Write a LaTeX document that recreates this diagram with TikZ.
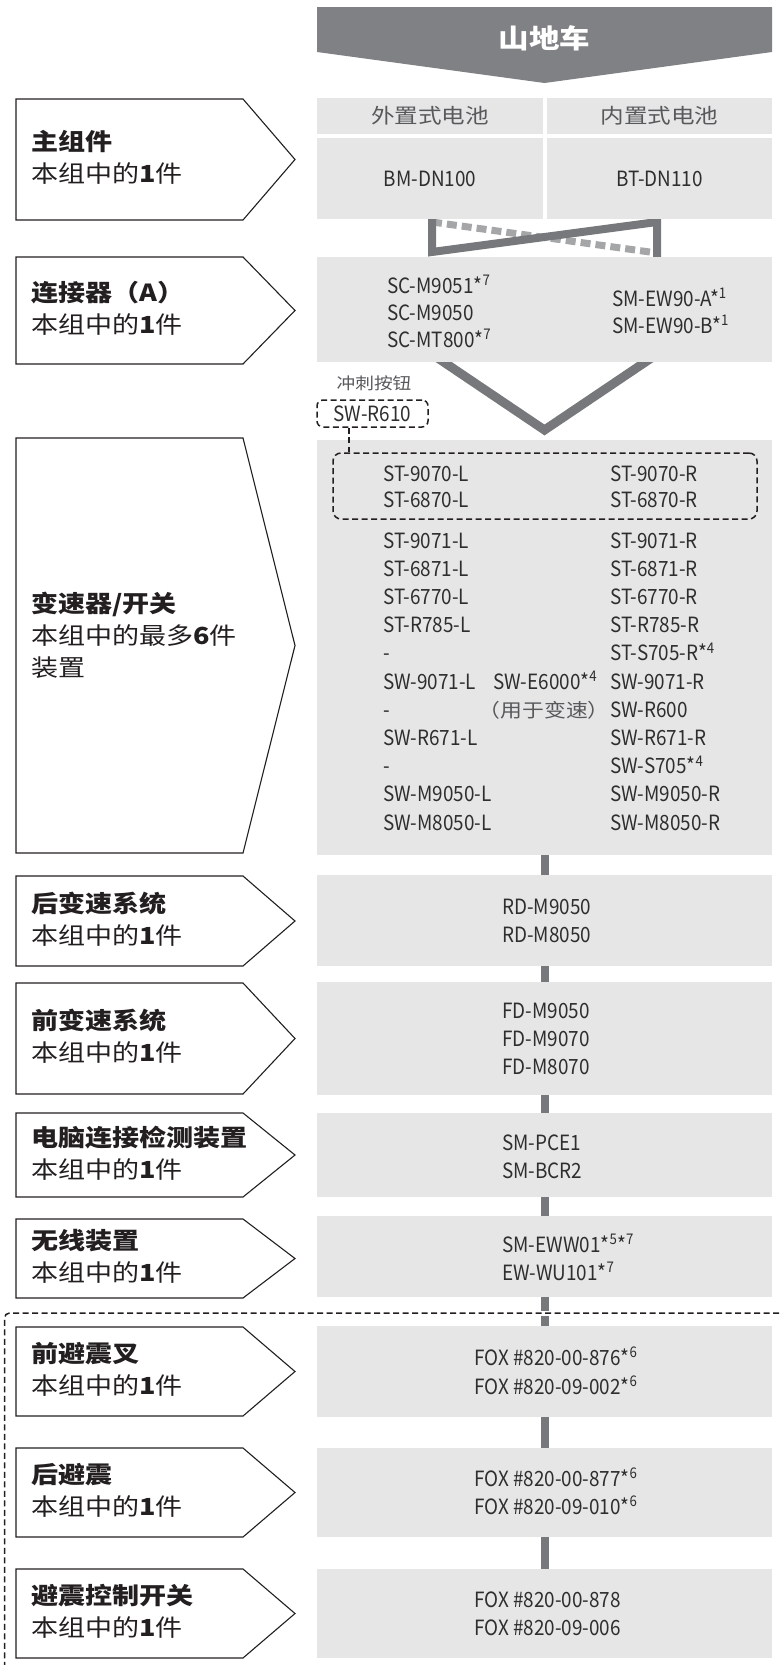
\documentclass[tikz,border=0pt]{standalone}
\usepackage{fontspec}
\setmainfont{Noto Sans CJK SC}
\newfontfamily\lblfont{Noto Sans CJK SC}[FakeStretch=1.15]
\newfontfamily\partfont{Noto Sans CJK SC}[FakeStretch=0.9]
\usetikzlibrary{calc,backgrounds}
\definecolor{boxgray}{HTML}{E6E6E7}
\definecolor{bargray}{HTML}{77787B}
\definecolor{bannergray}{HTML}{808184}
\definecolor{dashgray}{HTML}{A5A6A8}
\definecolor{txt}{HTML}{231F20}
\definecolor{parttxt}{HTML}{2E2E2F}
\definecolor{subtxt}{HTML}{58595B}
\newcommand\sps[1]{\textsuperscript{#1}}
\newcommand\lbox[5]{%
  \draw[lblline] (16,#2) -- (243,#2) -- (295,{(#2+#3)/2}) -- (243,#3) -- (16,#3) -- cycle;
  \node[lbltext] (#1) at (31,{(#2+#3)/2-2}) {\textbf{#4}\\#5};}
\begin{document}
\begin{tikzpicture}[x=1pt,y=-1pt,
  lblline/.style={draw=txt, line width=1.1pt, fill=white},
  lbltext/.style={anchor=west, align=left, inner sep=0pt, font=\lblfont\fontsize{23.5}{32}\selectfont, text=txt},
  gbox/.style={fill=boxgray, inner sep=0pt, minimum width=455pt},
  cell/.style={fill=boxgray, inner sep=0pt, minimum width=226pt, font=\partfont\fontsize{21}{28}\selectfont, text=parttxt},
  part/.style={anchor=base west, inner sep=0pt, font=\partfont\fontsize{21}{28}\selectfont, text=parttxt},
  bar/.style={draw=bargray, line width=8pt},
  dsh/.style={draw=txt, line width=1.5pt, dash pattern=on 6pt off 3.5pt},
]
\useasboundingbox (0,0) rectangle (779,1665);

% banner
\fill[bannergray] (317,7) -- (772,7) -- (772,52) -- (544.5,83) -- (317,52) -- cycle;
\node[text=white, font=\lblfont\bfseries\fontsize{26.5}{30}\selectfont, inner sep=0pt] (title) at (544.5,38) {山地车};

% label boxes
\lbox{l1}{99}{220}{主组件}{本组中的\textbf{1}件}
\lbox{l2}{257}{364}{连接器（A）}{本组中的\textbf{1}件}
\draw[lblline] (16,438) -- (243,438) -- (295,645.5) -- (243,853) -- (16,853) -- cycle;
\node[lbltext] (l3) at (31,635) {\textbf{变速器/开关}\\本组中的最多\textbf{6}件\\装置};
\lbox{l4}{876}{966}{后变速系统}{本组中的\textbf{1}件}
\lbox{l5}{983}{1094}{前变速系统}{本组中的\textbf{1}件}
\lbox{l6}{1113}{1197}{电脑连接检测装置}{本组中的\textbf{1}件}
\lbox{l7}{1219}{1298}{无线装置}{本组中的\textbf{1}件}
\lbox{l8}{1327}{1416}{前避震叉}{本组中的\textbf{1}件}
\lbox{l9}{1448}{1537}{后避震}{本组中的\textbf{1}件}
\lbox{l10}{1569}{1658}{避震控制开关}{本组中的\textbf{1}件}

% row 1 cells
\node[cell, minimum height=36pt, text=subtxt, font=\lblfont\fontsize{20.5}{24}\selectfont] (hl) at (430,116) {外置式电池};
\node[cell, minimum height=36pt, minimum width=225pt, text=subtxt, font=\lblfont\fontsize{20.5}{24}\selectfont] (hr) at (659.5,116) {内置式电池};
\node[cell, minimum height=81pt] (bl) at (430,178.5) {BM-DN100};
\node[cell, minimum height=81pt, minimum width=225pt] (br) at (659.5,178.5) {BT-DN110};

% gray boxes
\node[gbox, minimum height=105pt] (g2) at (544.5,309.5) {};
\node[gbox, minimum height=415pt] (g3) at (544.5,647.5) {};
\node[gbox, minimum height=91pt] (g4) at (544.5,920.5) {};
\node[gbox, minimum height=113pt] (g5) at (544.5,1038.5) {};
\node[gbox, minimum height=84pt] (g6) at (544.5,1155) {};
\node[gbox, minimum height=81pt] (g7) at (544.5,1256.5) {};
\node[gbox, minimum height=91pt] (g8) at (544.5,1371.5) {};
\node[gbox, minimum height=89pt] (g9) at (544.5,1492.5) {};
\node[gbox, minimum height=89pt] (g10) at (544.5,1613.5) {};

% connectors on background
\coordinate (ca) at (432,214);
\coordinate (cb) at (432,252);
\coordinate (cc) at (657,222);
\coordinate (cd) at (657,262);
\coordinate (ce) at (432,222);
\coordinate (cf) at (657,253);
\begin{pgfonlayer}{background}
  \draw[draw=dashgray, line width=7pt, dash pattern=on 10pt off 5pt] (ce) -- (cf);
  \draw[bar, line join=miter] (ca) -- (cb) -- (cc) -- (cd);
  \draw[bar, line width=9pt, line join=miter] ([xshift=-108pt,yshift=5pt]g2.south) -- (g2.south |- 0,430) coordinate (vtip) -- ([xshift=108pt,yshift=5pt]g2.south);
  \draw[bar] (g3) -- (g4);
  \draw[bar] (g4) -- (g5);
  \draw[bar] (g5) -- (g6);
  \draw[bar] (g6) -- (g7);
  \draw[bar] (g7) -- (g8);
  \draw[bar] (g8) -- (g9);
  \draw[bar] (g9) -- (g10);
\end{pgfonlayer}

% row 2 texts
\node[part] (c1) at (387,293) {SC-M9051*\sps{7}};
\node[part] (c2) at (387,320) {SC-M9050};
\node[part] (c3) at (387,347) {SC-MT800*\sps{7}};
\node[part] (c4) at (612,306) {SM-EW90-A*\sps{1}};
\node[part] (c5) at (612,333) {SM-EW90-B*\sps{1}};

% sprint button
\node[inner sep=0pt, text=subtxt, font=\lblfont\fontsize{16.3}{20}\selectfont] (sprint) at (374,383) {冲刺按钮};
\node[dsh, rounded corners=6pt, minimum width=111pt, minimum height=27pt, inner sep=0pt, font=\partfont\fontsize{21}{28}\selectfont, text=parttxt] (r610) at (372.5,413.5) {SW-R610};
\node[dsh, rounded corners=8pt, minimum width=424pt, minimum height=66pt, inner sep=0pt] (stbox) at (545,486) {};
\draw[dsh] ([xshift=-23.5pt]r610.south) -- ([xshift=-23.5pt]r610.south |- stbox.north);

% row 3 texts
\node[part] (s1) at (383,481) {ST-9070-L};
\node[part] (s2) at (383,507) {ST-6870-L};
\node[part] (s3) at (610,481) {ST-9070-R};
\node[part] (s4) at (610,507) {ST-6870-R};
\foreach \t [count=\i] in {ST-9071-L,ST-6871-L,ST-6770-L,ST-R785-L,-,SW-9071-L,-,SW-R671-L,-,SW-M9050-L,SW-M8050-L}
  \node[part] (sl\i) at (383,{548+(\i-1)*28.2}) {\t};
\foreach \t [count=\i] in {ST-9071-R,ST-6871-R,ST-6770-R,ST-R785-R,{ST-S705-R*\sps{4}},SW-9071-R,SW-R600,SW-R671-R,{SW-S705*\sps{4}},SW-M9050-R,SW-M8050-R}
  \node[part] (sr\i) at (610,{548+(\i-1)*28.2}) {\t};
\node[part] (e6000) at (493,{548+5*28.2}) {SW-E6000*\sps{4}};
\node[part, anchor=base east, text=subtxt, font=\lblfont\fontsize{19}{24}\selectfont] (shift) at (610,{548+6*28.2}) {（用于变速）};

% rows 4-10 texts
\node[part] (p41) at (502,914) {RD-M9050};
\node[part] (p42) at (502,942) {RD-M8050};
\node[part] (p51) at (502,1018) {FD-M9050};
\node[part] (p52) at (502,1046) {FD-M9070};
\node[part] (p53) at (502,1074) {FD-M8070};
\node[part] (p61) at (502,1150) {SM-PCE1};
\node[part] (p62) at (502,1178) {SM-BCR2};
\node[part] (p71) at (502,1252) {SM-EWW01*\sps{5}*\sps{7}};
\node[part] (p72) at (502,1280) {EW-WU101*\sps{7}};
\node[part] (p81) at (474,1365) {FOX \#820-00-876*\sps{6}};
\node[part] (p82) at (474,1394) {FOX \#820-09-002*\sps{6}};
\node[part] (p91) at (474,1486) {FOX \#820-00-877*\sps{6}};
\node[part] (p92) at (474,1514) {FOX \#820-09-010*\sps{6}};
\node[part] (p101) at (474,1607) {FOX \#820-00-878};
\node[part] (p102) at (474,1635) {FOX \#820-09-006};

% suspension bracket
\coordinate (bk1) at (779,1313);
\coordinate (bk2) at (4.5,1313);
\coordinate (bk3) at (4.5,1665);
\draw[white, line width=5pt] ([xshift=-6pt]g7.south |- bk1) -- ([xshift=6pt]g7.south |- bk1);
\draw[dsh, rounded corners=5pt] (bk1) -- (bk2) -- (bk3);
\end{tikzpicture}
\end{document}
